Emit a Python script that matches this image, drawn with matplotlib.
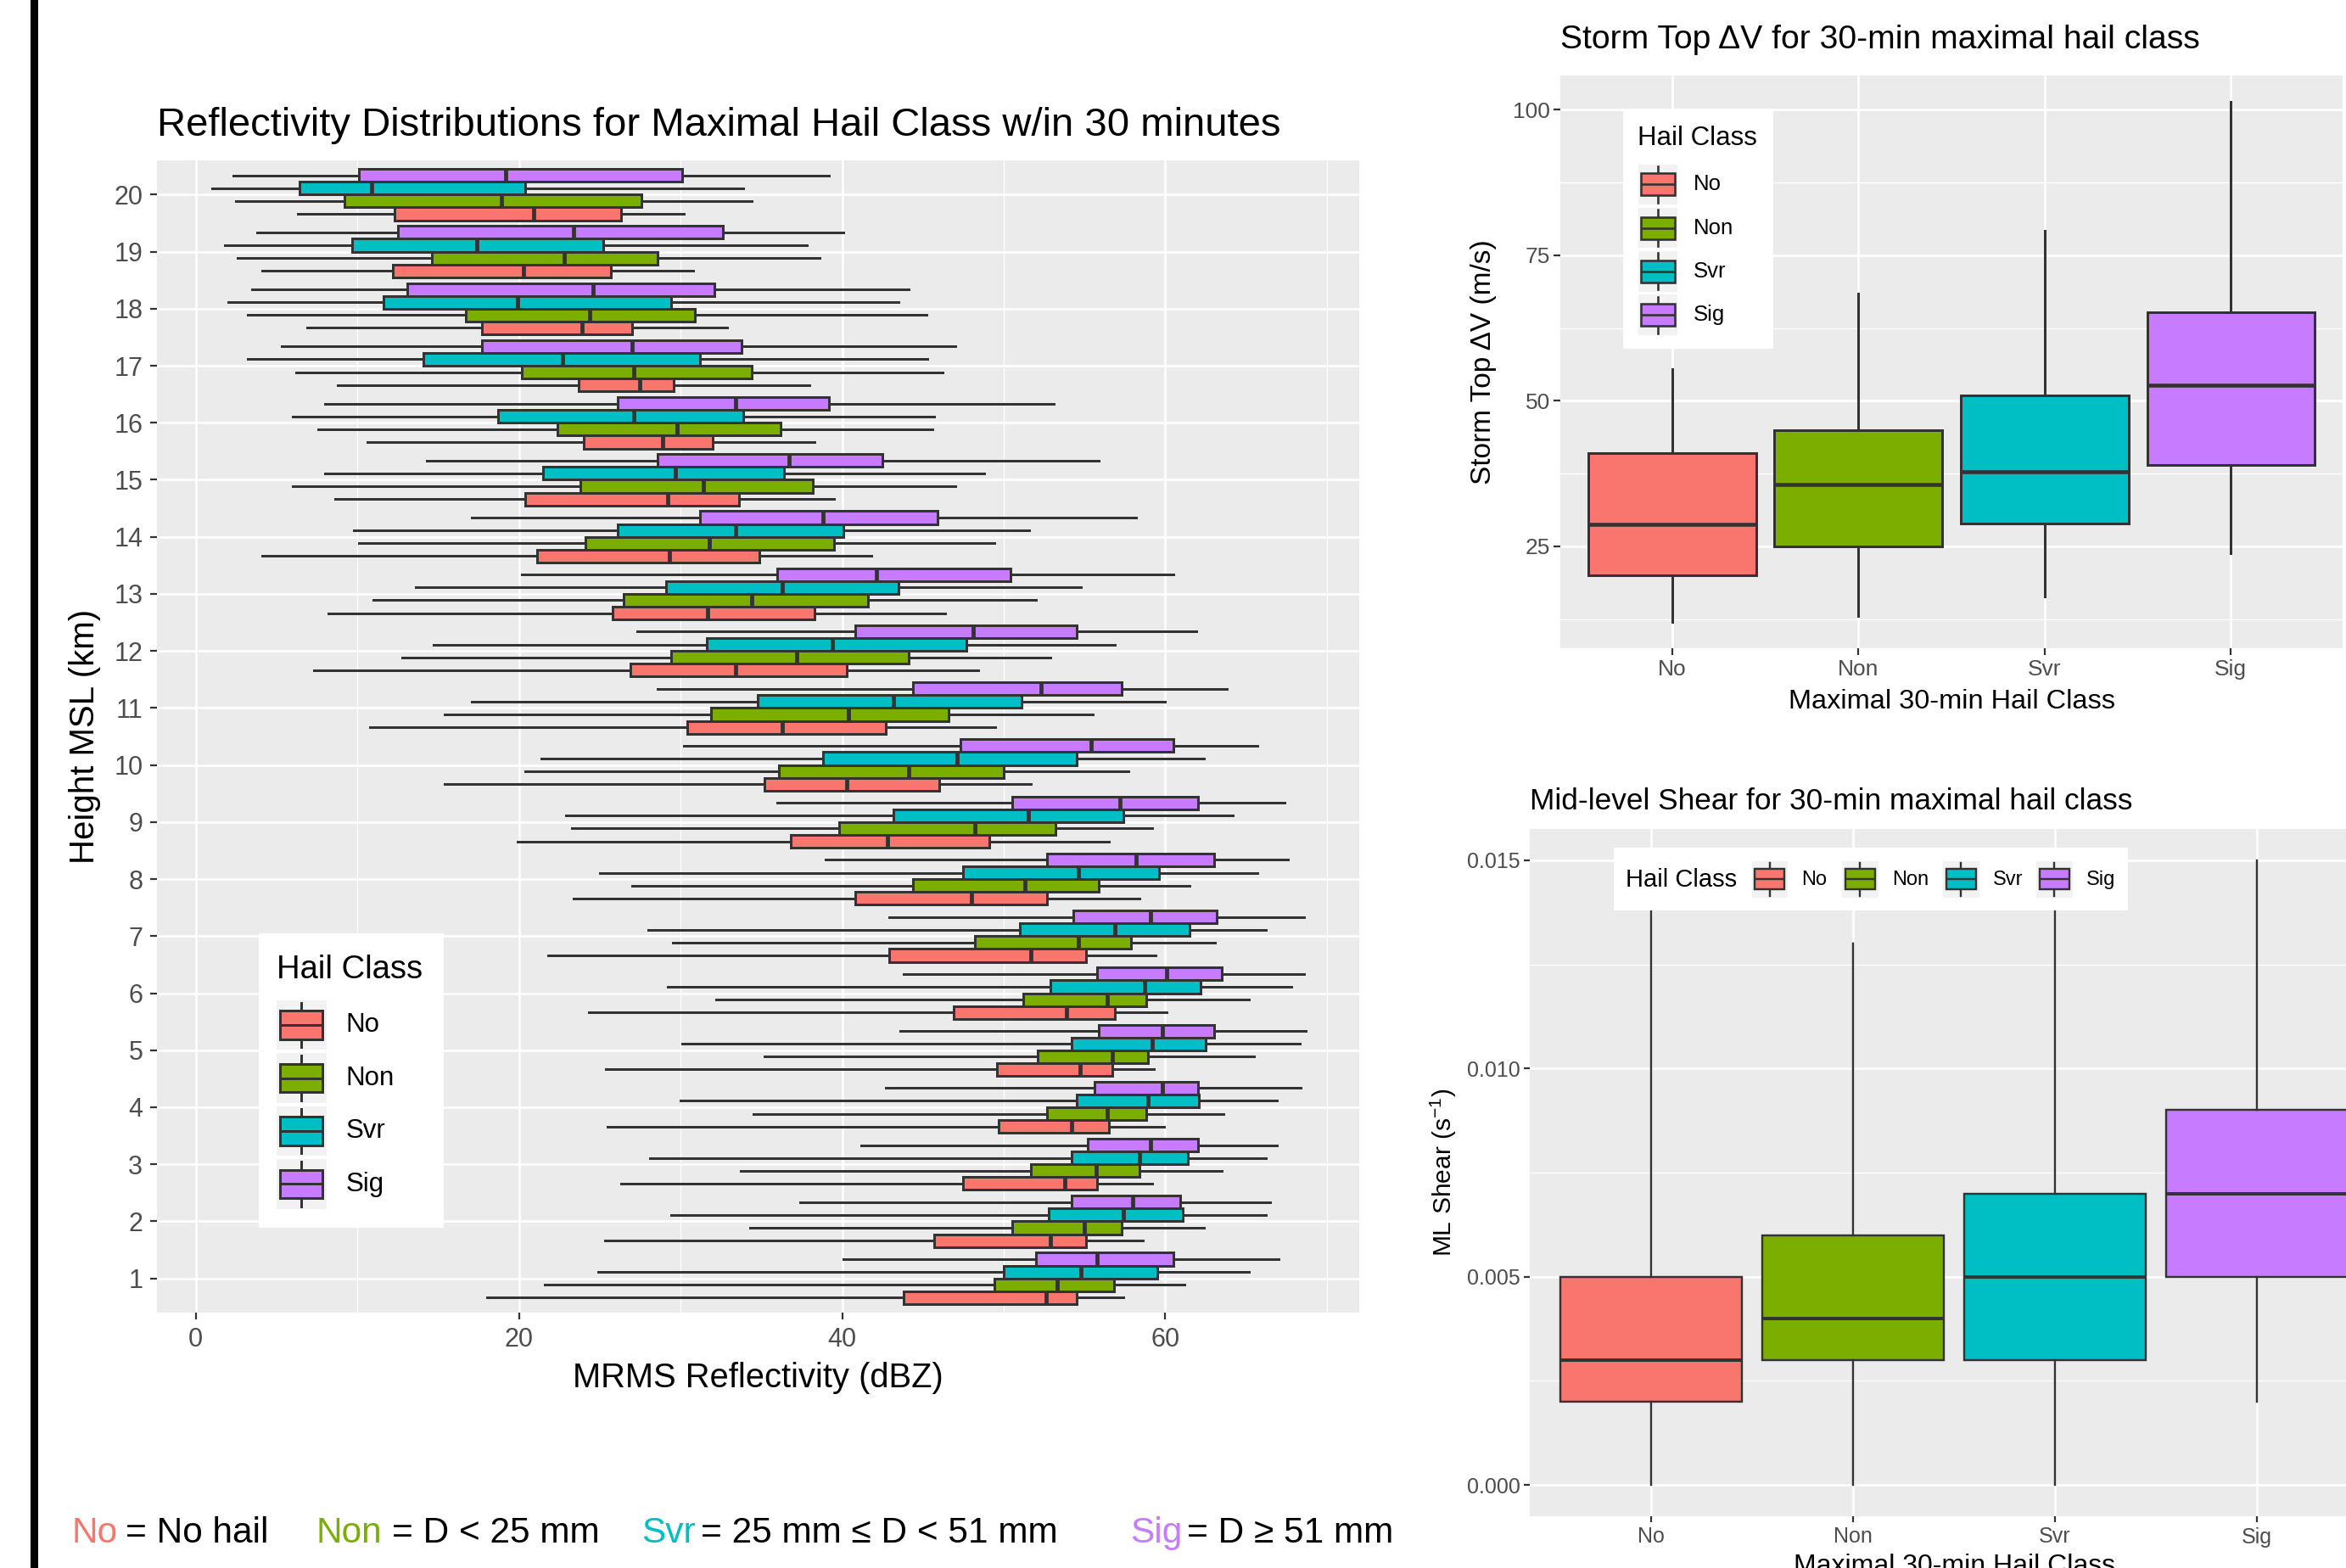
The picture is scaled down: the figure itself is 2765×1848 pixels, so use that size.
import numpy as np
import matplotlib
matplotlib.use('Agg')
import matplotlib.pyplot as plt
from matplotlib.patches import Rectangle

plt.rcParams['font.family'] = ['Liberation Sans', 'DejaVu Sans']
plt.rcParams['mathtext.fontset'] = 'custom'
plt.rcParams['mathtext.rm'] = 'Liberation Sans'
plt.rcParams['mathtext.default'] = 'regular'

W, H, DPI = 2765, 1848, 100

classes = ['No', 'Non', 'Svr', 'Sig']
colors = ['#F8766D', '#7CAE00', '#00BFC4', '#C77CFF']
heights = list(range(1, 21))

# reflectivity stats per height 1..20 km: (whisker low, q1, median, q3, whisker high)
refl_no = [(18.0, 43.8, 52.6, 54.5, 57.4), (25.3, 45.7, 52.9, 55.1, 58.6), (26.3, 47.5, 53.8, 55.8, 59.2),
           (25.5, 49.7, 54.2, 56.5, 59.9), (25.4, 49.6, 54.7, 56.7, 59.3), (24.3, 46.9, 53.9, 56.9, 60.1),
           (21.8, 42.9, 51.7, 55.1, 59.4), (23.4, 40.8, 48.0, 52.7, 58.4), (19.9, 36.8, 42.8, 49.1, 56.5),
           (15.4, 35.2, 40.3, 46.0, 51.7), (10.8, 30.4, 36.3, 42.7, 49.5), (7.3, 26.9, 33.4, 40.3, 48.4),
           (8.2, 25.8, 31.7, 38.3, 46.4), (4.1, 21.1, 29.3, 34.9, 41.8), (8.6, 20.4, 29.2, 33.6, 39.5),
           (10.6, 24.0, 28.9, 32.0, 38.3), (8.8, 23.7, 27.5, 29.6, 38.0), (6.9, 17.7, 23.9, 27.0, 32.9),
           (4.1, 12.2, 20.3, 25.7, 30.8), (6.3, 12.3, 20.9, 26.3, 30.2)]
refl_non = [(21.6, 49.4, 53.3, 56.8, 61.2), (34.3, 50.5, 55.0, 57.3, 62.4), (33.7, 51.7, 55.7, 58.4, 63.5),
            (34.5, 52.7, 56.4, 58.8, 63.6), (35.2, 52.1, 56.7, 58.9, 65.5), (32.2, 51.2, 56.4, 58.8, 65.2),
            (29.5, 48.2, 54.6, 57.9, 63.1), (27.0, 44.4, 51.3, 55.9, 61.5), (23.3, 39.8, 48.2, 53.2, 59.2),
            (20.4, 36.1, 44.1, 50.0, 57.7), (15.4, 31.9, 40.4, 46.6, 55.5), (12.8, 29.4, 37.2, 44.1, 52.9),
            (11.0, 26.5, 34.4, 41.6, 52.0), (10.1, 24.1, 31.8, 39.5, 49.4), (6.0, 23.8, 31.4, 38.2, 47.0),
            (7.6, 22.4, 29.8, 36.2, 45.6), (6.2, 20.2, 27.1, 34.4, 46.2), (3.2, 16.7, 24.4, 30.9, 45.2),
            (2.6, 14.6, 22.8, 28.6, 38.6), (2.5, 9.2, 18.9, 27.6, 34.4)]
refl_svr = [(24.9, 50.0, 54.8, 59.5, 65.2), (29.4, 52.8, 57.4, 61.1, 66.2), (28.1, 54.2, 58.4, 61.4, 66.2),
            (30.0, 54.5, 58.9, 62.1, 66.9), (30.1, 54.2, 59.2, 62.5, 68.3), (29.2, 52.9, 58.7, 62.2, 67.8),
            (28.0, 51.0, 56.9, 61.5, 66.2), (25.0, 47.5, 54.6, 59.6, 65.7), (22.9, 43.2, 51.5, 57.4, 64.2),
            (21.4, 38.8, 47.1, 54.5, 62.4), (17.1, 34.8, 43.2, 51.1, 60.0), (14.7, 31.6, 39.4, 47.7, 56.9),
            (13.6, 29.1, 36.3, 43.5, 54.8), (9.8, 26.1, 33.4, 40.1, 51.6), (8.0, 21.5, 29.7, 36.4, 48.8),
            (6.0, 18.7, 27.1, 33.9, 45.7), (3.2, 14.1, 22.7, 31.2, 45.3), (2.0, 11.6, 19.9, 29.4, 43.5),
            (1.8, 9.7, 17.4, 25.2, 37.8), (1.0, 6.4, 10.9, 20.4, 33.9)]
refl_sig = [(40.1, 52.0, 55.8, 60.5, 67.0), (37.4, 54.2, 58.0, 60.9, 66.5), (41.2, 55.2, 59.1, 62.0, 66.9),
            (42.7, 55.6, 59.8, 62.0, 68.4), (43.6, 55.9, 59.8, 63.0, 68.7), (43.8, 55.8, 60.1, 63.5, 68.6),
            (42.9, 54.3, 59.1, 63.2, 68.6), (39.0, 52.7, 58.2, 63.0, 67.6), (36.0, 50.5, 57.2, 62.0, 67.4),
            (30.2, 47.3, 55.4, 60.5, 65.7), (28.6, 44.4, 52.3, 57.3, 63.8), (27.3, 40.8, 48.1, 54.5, 61.9),
            (20.2, 36.0, 42.1, 50.4, 60.5), (17.1, 31.2, 38.8, 45.9, 58.2), (14.3, 28.6, 36.7, 42.5, 55.9),
            (8.0, 26.1, 33.4, 39.2, 53.1), (5.3, 17.7, 27.0, 33.8, 47.0), (3.5, 13.1, 24.6, 32.1, 44.1),
            (3.8, 12.5, 23.4, 32.6, 40.1), (2.3, 10.1, 19.2, 30.1, 39.2)]

# storm top delta-V (m/s) per class
dv_lo = [12.0, 13.0, 16.4, 23.9]
dv_q1 = [20.0, 25.0, 29.0, 39.0]
dv_med = [28.8, 35.6, 37.8, 52.7]
dv_q3 = [41.0, 45.0, 50.9, 65.3]
dv_hi = [55.5, 68.4, 79.2, 101.4]

# mid-level shear (1/s) per class
sh_lo = [0.000, 0.000, 0.000, 0.002]
sh_q1 = [0.002, 0.003, 0.003, 0.005]
sh_med = [0.003, 0.004, 0.005, 0.007]
sh_q3 = [0.005, 0.006, 0.007, 0.009]
sh_hi = [0.015, 0.013, 0.015, 0.015]

EDGE = '#333333'
PX = 0.72  # pt per pixel at 100 dpi

fig = plt.figure(figsize=(W / DPI, H / DPI), dpi=DPI)


def px_axes(x0, y0, x1, y1):
    return fig.add_axes([x0 / W, 1 - y1 / H, (x1 - x0) / W, (y1 - y0) / H])


def gg_style(ax, major_lw, minor_lw, tick_size, tick_len):
    ax.set_facecolor('#EBEBEB')
    for s in ax.spines.values():
        s.set_visible(False)
    ax.set_axisbelow(True)
    ax.grid(which='major', color='white', lw=major_lw)
    ax.grid(which='minor', color='white', lw=minor_lw)
    ax.tick_params(which='major', color=EDGE, labelcolor='#4D4D4D', labelsize=tick_size,
                   length=tick_len, width=1.6)
    ax.tick_params(which='minor', length=0)


def draw_box(ax, stats, pos, width, color, lw, mlw, horizontal):
    st = [dict(whislo=s[0], q1=s[1], med=s[2], q3=s[3], whishi=s[4], fliers=[]) for s in stats]
    kw = dict(positions=pos, widths=width, patch_artist=True, showcaps=False, showfliers=False,
              manage_ticks=False,
              boxprops=dict(facecolor=color, edgecolor=EDGE, linewidth=lw),
              medianprops=dict(color=EDGE, linewidth=mlw, solid_capstyle='butt'),
              whiskerprops=dict(color=EDGE, linewidth=lw))
    try:
        ax.bxp(st, orientation='horizontal' if horizontal else 'vertical', **kw)
    except TypeError:
        ax.bxp(st, vert=not horizontal, **kw)


# ---------------- left: reflectivity by height ----------------
ax1 = px_axes(185, 189, 1602, 1547)
gg_style(ax1, 2.6 * PX, 1.3 * PX, 22, 6)
offsets = [-0.3375, -0.1125, 0.1125, 0.3375]
for ci, data in enumerate([refl_no, refl_non, refl_svr, refl_sig]):
    draw_box(ax1, data, np.array(heights) + offsets[ci], 0.225, colors[ci], 3.0 * PX, 4.8 * PX, True)
ax1.set_xlim(-2.4, 72.0)
ax1.set_ylim(0.4, 20.6)
ax1.set_xticks([0, 20, 40, 60])
ax1.set_xticks([10, 30, 50, 70], minor=True)
ax1.set_yticks(heights)
ax1.tick_params(axis='both', pad=6)
ax1.set_xlabel('MRMS Reflectivity (dBZ)', fontsize=28.7)
ax1.set_ylabel('Height MSL (km)', fontsize=29)
ax1.xaxis.set_label_coords(0.5, -(1624 - 1547) / (1547 - 189))
ax1.xaxis.label.set_va('center')
ax1.yaxis.set_label_coords((100 - 185) / (1602 - 185), 0.5)
ax1.yaxis.label.set_va('center')

# ---------------- top right: storm top delta V ----------------
ax2 = px_axes(1839, 89, 2761, 764)
gg_style(ax2, 2.8 * PX, 1.4 * PX, 19, 5.5)
dv_stats = list(zip(dv_lo, dv_q1, dv_med, dv_q3, dv_hi))
for ci in range(4):
    draw_box(ax2, [dv_stats[ci]], [ci + 1], 0.9, colors[ci], 3.0 * PX, 4.6 * PX, False)
ax2.set_xlim(0.4, 4.6)
ax2.set_ylim(7.5, 105.9)
ax2.set_xticks([1, 2, 3, 4])
ax2.set_xticklabels(classes)
ax2.set_yticks([25, 50, 75, 100])
ax2.set_yticks([12.5, 37.5, 62.5, 87.5], minor=True)
ax2.tick_params(axis='y', pad=3)
ax2.tick_params(axis='x', pad=4)
ax2.set_xlabel('Maximal 30-min Hail Class', fontsize=23.4)
ax2.set_ylabel('Storm Top ΔV (m/s)', fontsize=24)
ax2.xaxis.set_label_coords(0.5, -(827 - 764) / (764 - 89))
ax2.xaxis.label.set_va('center')
ax2.yaxis.set_label_coords((1748 - 1839) / (2761 - 1839), 0.5)
ax2.yaxis.label.set_va('center')

# ---------------- bottom right: mid-level shear ----------------
ax3 = px_axes(1803, 977, 2803, 1787)
gg_style(ax3, 2.6 * PX, 1.3 * PX, 18, 5)
sh_stats = list(zip(sh_lo, sh_q1, sh_med, sh_q3, sh_hi))
for ci in range(4):
    draw_box(ax3, [sh_stats[ci]], [ci + 1], 0.9, colors[ci], 2.4 * PX, 4.0 * PX, False)
ax3.set_xlim(0.4, 4.6)
ax3.set_ylim(-0.00075, 0.01575)
ax3.set_xticks([1, 2, 3, 4])
ax3.set_xticklabels(classes)
ax3.set_yticks([0.0, 0.005, 0.010, 0.015])
ax3.set_yticklabels(['0.000', '0.005', '0.010', '0.015'])
ax3.set_yticks([0.0025, 0.0075, 0.0125], minor=True)
ax3.tick_params(axis='y', pad=3)
ax3.tick_params(axis='x', pad=4)
ax3.set_xlabel('Maximal 30-min Hail Class', fontsize=23)
ax3.set_ylabel('ML Shear (s$^{-1}$)', fontsize=21.6)
ax3.xaxis.set_label_coords(0.5, -(1846 - 1787) / (1787 - 977))
ax3.xaxis.label.set_va('center')
ax3.yaxis.set_label_coords((1701 - 1803) / (2803 - 1803), 0.5)
ax3.yaxis.label.set_va('center')

# ---------------- overlay: titles, legends, footer ----------------
ov = fig.add_axes([0, 0, 1, 1])
ov.set_xlim(0, W)
ov.set_ylim(H, 0)
ov.axis('off')
ov.patch.set_alpha(0)

ov.add_patch(Rectangle((36, 0), 9, H, facecolor='black', edgecolor='none'))

ov.text(185, 148, 'Reflectivity Distributions for Maximal Hail Class w/in 30 minutes',
        fontsize=34, va='center', ha='left')
ov.text(1839, 47, 'Storm Top ΔV for 30-min maximal hail class', fontsize=28.2, va='center', ha='left')
ov.text(1803, 945, 'Mid-level Shear for 30-min maximal hail class', fontsize=25.4, va='center', ha='left')


def key_glyph(x0, y0, w, h, bw, bh, color, lw):
    cx, cy = x0 + w / 2, y0 + h / 2
    ov.add_patch(Rectangle((x0, y0), w, h, facecolor='#F2F2F2', edgecolor='none', zorder=3))
    ov.plot([cx, cx], [y0 + 0.05 * h, y0 + 0.95 * h], color=EDGE, lw=lw, zorder=4)
    ov.add_patch(Rectangle((cx - bw / 2, cy - bh / 2), bw, bh, facecolor=color, edgecolor=EDGE,
                           lw=lw, zorder=5))
    ov.plot([cx - bw / 2, cx + bw / 2], [cy, cy], color=EDGE, lw=lw, zorder=6, solid_capstyle='butt')


# left legend
ov.add_patch(Rectangle((305, 1100), 218, 347, facecolor='white', edgecolor='none', zorder=2))
ov.text(325.7, 1143, 'Hail Class', fontsize=27.5, va='center', ha='left', zorder=7)
for i, name in enumerate(classes):
    y0 = 1179 + i * 62.4
    key_glyph(325.7, y0, 59, 58.3, 49.7, 33.7, colors[i], 3.0 * PX)
    ov.text(407.3, y0 + 29.5, name, fontsize=22.5, va='center', ha='left', zorder=7)

# top right legend
ov.add_patch(Rectangle((1913, 130), 177, 281, facecolor='white', edgecolor='none', zorder=2))
ov.text(1930, 163, 'Hail Class', fontsize=22.5, va='center', ha='left', zorder=7)
for i, name in enumerate(classes):
    y0 = 193.5 + i * 51.3
    key_glyph(1930.5, y0, 46.5, 47.7, 39.6, 26, colors[i], 2.6 * PX)
    ov.text(1996, y0 + 24, name, fontsize=18.5, va='center', ha='left', zorder=7)

# bottom right legend
ov.add_patch(Rectangle((1902, 999), 606, 74, facecolor='white', edgecolor='none', zorder=2))
ov.text(1916, 1037, 'Hail Class', fontsize=21, va='center', ha='left', zorder=7)
key_x = [2064.7, 2171, 2290, 2400]
lab_x = [2123, 2230, 2349, 2459]
for i, name in enumerate(classes):
    key_glyph(key_x[i], 1014.6, 42.5, 43.2, 35, 24, colors[i], 2.4 * PX)
    ov.text(lab_x[i], 1037, name, fontsize=17, va='center', ha='left', zorder=7)

# footer
footer = [('No', 85, colors[0]), ('= No hail', 148, 'black'),
          ('Non', 372, colors[1]), ('= D < 25 mm', 462, 'black'),
          ('Svr', 756, colors[2]), ('= 25 mm ≤ D < 51 mm', 826, 'black'),
          ('Sig', 1332, colors[3]), ('= D ≥ 51 mm', 1399, 'black')]
for txt, x, c in footer:
    ov.text(x, 1818, txt, fontsize=30.5, color=c, va='baseline', ha='left')

fig.savefig('out.png', dpi=DPI)
